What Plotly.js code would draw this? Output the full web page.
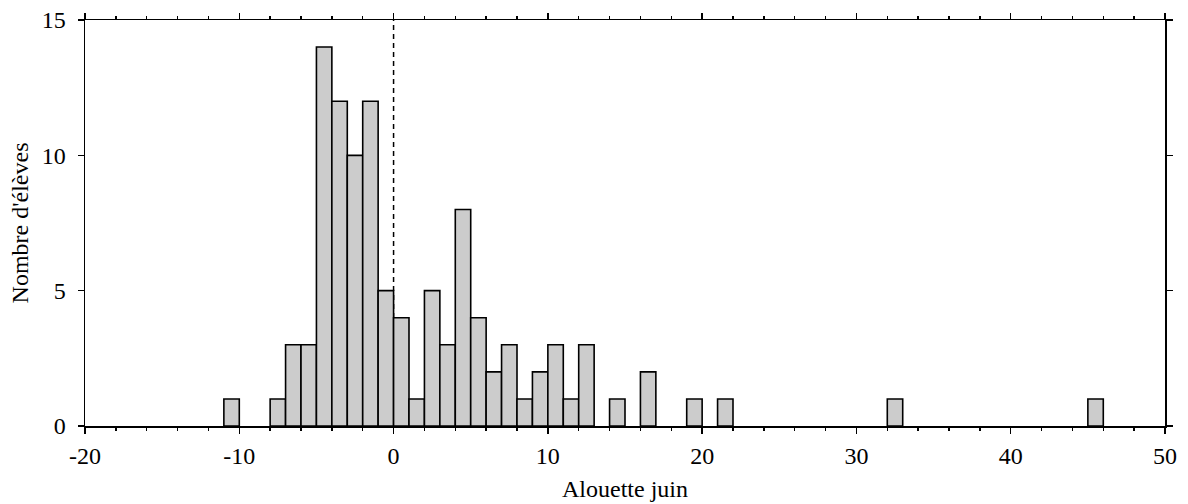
<!DOCTYPE html>
<html>
<head>
<meta charset="utf-8">
<script src="https://cdn.plot.ly/plotly-3.0.1.min.js"></script>
<style>
  html, body { margin: 0; padding: 0; background: #ffffff; }
  #chart { width: 1188px; height: 504px; }
</style>
</head>
<body>
<div id="chart"></div>
<script>
// Histogram bins (left edge of each 1-unit bin) and counts
const binStart = [-11, -8, -7, -6, -5, -4, -3, -2, -1, 0, 1, 2, 3, 4, 5, 6, 7, 8, 9, 10, 11, 12, 14, 16, 19, 21, 32, 45];
const counts   = [  1,  1,  3,  3, 14, 12, 10, 12,  5, 4, 1, 5, 3, 8, 4, 2, 3, 1, 2,  3,  1,  3,  1,  2,  1,  1,  1,  1];
const binWidth = 1;
const xTickVals = [-20, -10, 0, 10, 20, 30, 40, 50];
const yTickVals = [0, 5, 10, 15];
const xTitle = "Alouette juin";
const yTitle = "Nombre d'élèves";
const refLineX = 0;

const binCenters = binStart.map(v => v + binWidth / 2);

const trace = {
  type: 'bar',
  x: binCenters,
  y: counts,
  width: binCenters.map(() => binWidth),
  marker: { color: '#cccccc', line: { color: '#000000', width: 1.6 } },
  hoverinfo: 'x+y'
};

const fontFam = '"Liberation Serif", "Times New Roman", serif';

const layout = {
  width: 1188,
  height: 504,
  margin: { l: 85, r: 23, t: 20, b: 78 },
  paper_bgcolor: '#ffffff',
  plot_bgcolor: '#ffffff',
  showlegend: false,
  bargap: 0,
  font: { family: fontFam, size: 24, color: '#000000' },
  xaxis: {
    range: [-20, 50],
    tickmode: 'array',
    tickvals: xTickVals,
    ticktext: xTickVals.map(String),
    ticks: 'outside',
    ticklen: 6,
    tickwidth: 1.5,
    tickcolor: '#000000',
    ticklabelstandoff: 2,
    minor: { dtick: 2, tick0: 0, ticks: 'outside', ticklen: 3, tickwidth: 1.5, tickcolor: '#000000' },
    showline: true,
    linecolor: '#000000',
    linewidth: 1.5,
    mirror: 'ticks',
    showgrid: false,
    zeroline: false,
    tickfont: { family: fontFam, size: 24, color: '#000000' },
    title: { text: xTitle, font: { family: fontFam, size: 24, color: '#000000' }, standoff: 12 },
    automargin: false
  },
  yaxis: {
    range: [0, 15],
    tickmode: 'array',
    tickvals: yTickVals,
    ticktext: yTickVals.map(String),
    ticks: 'outside',
    ticklen: 6,
    tickwidth: 1.5,
    tickcolor: '#000000',
    ticklabelstandoff: 7,
    showline: true,
    linecolor: '#000000',
    linewidth: 1.5,
    mirror: 'ticks',
    showgrid: false,
    zeroline: false,
    tickfont: { family: fontFam, size: 24, color: '#000000' },
    title: { text: yTitle, font: { family: fontFam, size: 24, color: '#000000' }, standoff: 6 },
    automargin: false
  },
  shapes: [{
    type: 'line',
    xref: 'x', yref: 'y',
    x0: refLineX, x1: refLineX, y0: 0, y1: 15,
    layer: 'below',
    line: { color: '#000000', width: 1.5, dash: '5px,4px' }
  }]
};

Plotly.newPlot('chart', [trace], layout, { staticPlot: true, displayModeBar: false });
</script>
</body>
</html>
